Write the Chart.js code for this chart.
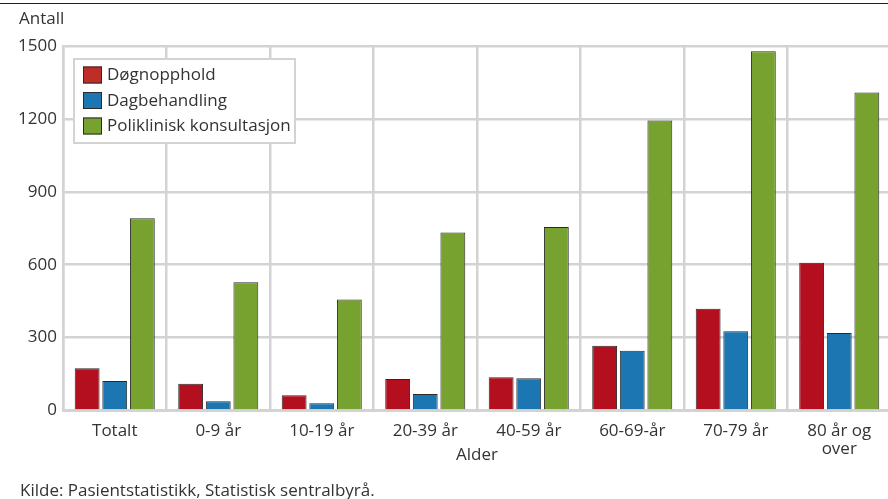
<!DOCTYPE html>
<html lang="no">
<head>
<meta charset="utf-8">
<title>Pasienter etter alder og behandlingsform</title>
<script src="https://cdn.jsdelivr.net/npm/chart.js@4/dist/chart.umd.min.js"></script>
<style>
  html, body { margin: 0; padding: 0; background: #fff; overflow: hidden; width: 888px; height: 499px; }
  #wrap { position: relative; width: 896px; height: 499px; }
  #topline { position: absolute; left: 0; top: 3px; width: 888px; height: 0; border-top: 1.5px solid #222; }
  #source { position: absolute; left: 20px; top: 478px; font: 17px "Open Sans", sans-serif; color: #333; white-space: nowrap; }
  canvas { display: block; }
</style>
</head>
<body>
<div id="wrap">
  <canvas id="chart" width="896" height="499"></canvas>
  <div id="topline"></div>
  <div id="source">Kilde: Pasientstatistikk, Statistisk sentralbyrå.</div>
</div>
<script>
// Aldersgrupper og antall per behandlingsform
const categories = ['Totalt', '0-9 år', '10-19 år', '20-39 år', '40-59 år', '60-69-år', '70-79 år', ['80 år og', 'over']];
const dognopphold   = [174, 110, 63, 130, 137, 266, 419, 608];
const dagbehandling = [121, 38, 30, 68, 133, 246, 326, 319];
const poliklinisk   = [791, 528, 457, 733, 755, 1193, 1478, 1309];
const seriesNames   = ['Døgnopphold', 'Dagbehandling', 'Poliklinisk konsultasjon'];
const yTicks        = [0, 300, 600, 900, 1200, 1500];

const FONT = '"Open Sans", sans-serif';
const FSIZE = 17;
const TEXT = '#333333';
const GRID = '#d3d3d3';

const barColors    = ['#b30f1e', '#1b76b1', '#78a22f'];
const swatchColors = ['#bf2d28', '#1b76b1', '#78a22f'];

// Forklaring i plottområdet, øverst til venstre
const boxLegend = {
  id: 'boxLegend',
  afterDatasetsDraw(chart) {
    const ctx = chart.ctx;
    const x = 74, y = 59, w = 221, h = 84;
    ctx.save();
    ctx.fillStyle = '#ffffff';
    ctx.fillRect(x, y, w, h);
    ctx.strokeStyle = GRID;
    ctx.lineWidth = 2;
    ctx.strokeRect(x, y, w, h);
    ctx.font = FSIZE + 'px ' + FONT;
    ctx.textBaseline = 'middle';
    chart.data.datasets.forEach((ds, i) => {
      const cy = 75 + i * 25.5;
      ctx.fillStyle = ds.swatch;
      ctx.fillRect(83, cy - 8.5, 19, 17);
      ctx.strokeStyle = '#2b2b2b';
      ctx.lineWidth = 1;
      ctx.strokeRect(83.5, cy - 8, 18, 16);
      ctx.fillStyle = TEXT;
      ctx.fillText(ds.label, 107, cy + 0.5);
    });
    ctx.restore();
  }
};

// Aksetitler: "Antall" over y-aksen og "Alder" under kategoriene
const axisTitles = {
  id: 'axisTitles',
  afterDraw(chart) {
    const ctx = chart.ctx;
    const area = chart.chartArea;
    ctx.save();
    ctx.font = FSIZE + 'px ' + FONT;
    ctx.fillStyle = TEXT;
    ctx.textBaseline = 'middle';
    ctx.textAlign = 'left';
    ctx.fillText('Antall', 19, 19);
    ctx.textAlign = 'center';
    ctx.fillText('Alder', (area.left + area.right) / 2, 455);
    ctx.restore();
  }
};

new Chart(document.getElementById('chart'), {
  type: 'bar',
  data: {
    labels: categories,
    datasets: [dognopphold, dagbehandling, poliklinisk].map((values, i) => ({
      label: seriesNames[i],
      data: values,
      backgroundColor: barColors[i],
      swatch: swatchColors[i],
      borderColor: '#2b2b2b',
      borderWidth: 1,
      borderSkipped: 'bottom',
      categoryPercentage: 0.8,
      barPercentage: 0.9
    }))
  },
  options: {
    responsive: false,
    animation: false,
    devicePixelRatio: 1,
    layout: { padding: { top: 46, right: 5, bottom: 0, left: 0 } },
    plugins: {
      legend: { display: false },
      tooltip: { enabled: false }
    },
    scales: {
      x: {
        grid: { color: GRID, lineWidth: 2.5, drawTicks: false, offset: true },
        border: { color: GRID, width: 3 },
        ticks: { color: TEXT, font: { family: FONT, size: FSIZE, lineHeight: 1.1 }, padding: 11, maxRotation: 0, autoSkip: false },
        afterFit(scale) { scale.height = 88.5; }
      },
      y: {
        min: 0,
        max: 1500,
        afterBuildTicks(scale) { scale.ticks = yTicks.map(v => ({ value: v })); },
        grid: { color: GRID, lineWidth: 2.5, drawTicks: false },
        border: { color: GRID, width: 2.5 },
        ticks: { color: TEXT, font: { family: FONT, size: FSIZE }, padding: 6, callback: v => String(v) },
        afterFit(scale) { scale.width = 63; }
      }
    }
  },
  plugins: [boxLegend, axisTitles]
});
</script>
</body>
</html>
